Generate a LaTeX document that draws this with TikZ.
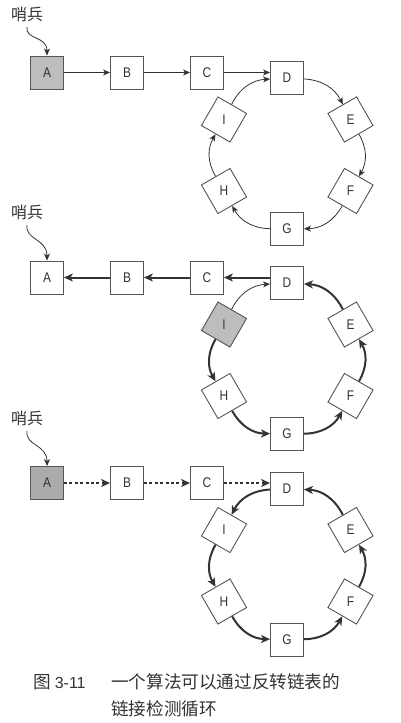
\documentclass[tikz,border=0pt]{standalone}
\usepackage{fontspec}
\setmainfont{Liberation Sans}
\newfontfamily\cjk{Noto Sans CJK SC}
\newfontfamily\boxfont[FakeStretch=0.85]{Liberation Sans}
\usetikzlibrary{arrows.meta,shapes.geometric}
\definecolor{boxline}{HTML}{555555}
\definecolor{fillA}{HTML}{BDBDBD}
\definecolor{fillB}{HTML}{ABABAB}
\definecolor{ink}{HTML}{333333}
\tikzset{
  listbox/.style={draw=boxline, line width=0.9pt, fill=white, minimum size=33pt,
    inner sep=0pt, font=\boxfont\fontsize{14}{14}\selectfont, text=ink},
  rotbox/.style={listbox, regular polygon, regular polygon sides=4,
    minimum size=46.7pt, shape border rotate=#1},
  thinarr/.style={draw=ink, line width=0.8pt, -{Stealth[length=7pt,width=6pt,inset=2pt]}},
  thickarr/.style={draw=ink, line width=2pt, -{Stealth[length=9pt,width=8pt,inset=2.5pt]}},
  dotarr/.style={thickarr, line width=2.3pt, dash pattern=on 3pt off 2.4pt},
  sentinel/.style={font=\cjk\fontsize{16}{16}\selectfont, text=ink},
  captext/.style={font=\cjk\fontsize{17.6}{17.6}\selectfont, text=ink, anchor=west, inner sep=0pt}
}
\begin{document}
\begin{tikzpicture}[x=1pt,y=-1pt]
\useasboundingbox (0,0) rectangle (400,723);

% ---------------- Diagram 1 ----------------
\node[sentinel] (s1) at (27,14) {哨兵};
\node[listbox, fill=fillA] (A1) at (47,72.5) {A};
\node[listbox] (B1) at (127,72.5) {B};
\node[listbox] (C1) at (207,72.5) {C};
\node[listbox] (D1) at (287,78) {D};
\node[rotbox=30]  (E1) at (350.5,119.5) {E};
\node[rotbox=-30] (F1) at (350.5,191) {F};
\node[listbox] (G1) at (287,229) {G};
\node[rotbox=30]  (H1) at (224,191) {H};
\node[rotbox=-30] (I1) at (224,119.5) {I};
\coordinate (c1) at (27,27);
\draw[thinarr] (c1) .. controls +(-2,13) and +(0,-20) .. (A1.north);
\draw[thinarr] (A1) -- (B1);
\draw[thinarr] (B1) -- (C1);
\draw[thinarr] (C1.east) -- (C1.east -| D1.west);
\draw[thinarr] (D1) to[bend left=30] (E1);
\draw[thinarr] (E1) to[bend left=30] (F1);
\draw[thinarr] (F1) to[bend left=30] (G1);
\draw[thinarr] (G1) to[bend left=30] (H1);
\draw[thinarr] (H1) to[bend left=30] (I1);
\draw[thinarr] (I1) to[bend left=30] (D1);

% ---------------- Diagram 2 ----------------
\node[sentinel] (s2) at (27,212) {哨兵};
\node[listbox] (A2) at (47,277.5) {A};
\node[listbox] (B2) at (127,277.5) {B};
\node[listbox] (C2) at (207,277.5) {C};
\node[listbox] (D2) at (287,283) {D};
\node[rotbox=30]  (E2) at (350.5,324.5) {E};
\node[rotbox=-30] (F2) at (350.5,396) {F};
\node[listbox] (G2) at (287,434) {G};
\node[rotbox=30]  (H2) at (224,396) {H};
\node[rotbox=-30, fill=fillA] (I2) at (224,324.5) {I};
\coordinate (c2) at (27,225);
\draw[thinarr] (c2) .. controls +(-2,15) and +(0,-22) .. (A2.north);
\draw[thickarr] (B2) -- (A2);
\draw[thickarr] (C2) -- (B2);
\draw[thickarr] (C2.east -| D2.west) -- (C2.east);
\draw[thickarr] (E2) to[bend right=30] (D2);
\draw[thickarr] (F2) to[bend right=30] (E2);
\draw[thickarr] (G2) to[bend right=30] (F2);
\draw[thickarr] (H2) to[bend right=30] (G2);
\draw[thickarr] (I2) to[bend right=30] (H2);
\draw[thinarr] (I2) to[bend left=30] (D2);

% ---------------- Diagram 3 ----------------
\node[sentinel] (s3) at (27,418) {哨兵};
\node[listbox, fill=fillB] (A3) at (47,483) {A};
\node[listbox] (B3) at (127,483) {B};
\node[listbox] (C3) at (207,483) {C};
\node[listbox] (D3) at (287,488.5) {D};
\node[rotbox=30]  (E3) at (350.5,530) {E};
\node[rotbox=-30] (F3) at (350.5,601.5) {F};
\node[listbox] (G3) at (287,639.5) {G};
\node[rotbox=30]  (H3) at (224,601.5) {H};
\node[rotbox=-30] (I3) at (224,530) {I};
\coordinate (c3) at (27,431);
\draw[thinarr] (c3) .. controls +(-2,15) and +(0,-22) .. (A3.north);
\draw[dotarr] (A3) -- (B3);
\draw[dotarr] (B3) -- (C3);
\draw[dotarr] (C3.east) -- (C3.east -| D3.west);
\draw[thickarr] (D3) to[bend right=30] (I3);
\draw[thickarr] (I3) to[bend right=30] (H3);
\draw[thickarr] (H3) to[bend right=30] (G3);
\draw[thickarr] (G3) to[bend right=30] (F3);
\draw[thickarr] (F3) to[bend right=30] (E3);
\draw[thickarr] (E3) to[bend right=30] (D3);

% ---------------- Caption ----------------
\node[captext] (cap0) at (33,682) {图\hspace{4pt}{\rmfamily\fontsize{16}{16}\selectfont 3-11}};
\node[captext] (cap1) at (111,682) {一个算法可以通过反转链表的};
\node[captext] (cap2) at (111,709) {链接检测循环};
\end{tikzpicture}
\end{document}
